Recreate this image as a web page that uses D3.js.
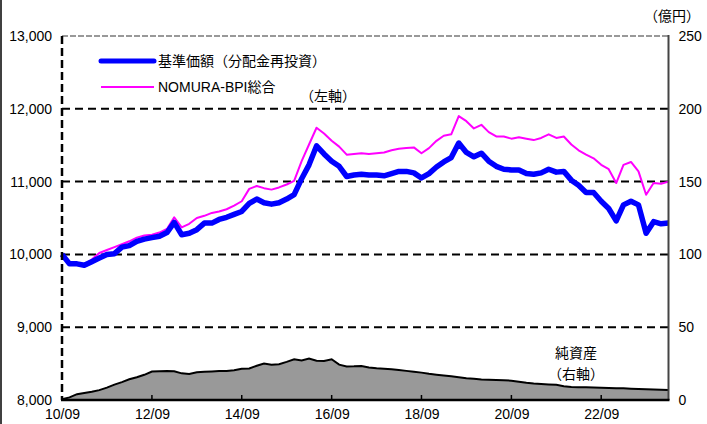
<!DOCTYPE html>
<html><head><meta charset="utf-8">
<script src="https://cdn.jsdelivr.net/npm/d3@7"></script>
<style>
html,body{margin:0;padding:0;background:#fff;}
svg{display:block;}
text{font-family:"Liberation Sans","Noto Sans CJK JP",sans-serif;fill:#000;}
</style></head>
<body>
<svg id="c" width="707" height="424"></svg>
<script>
// bimonthly observations, 2010/09 .. 2024/03
const startMonth = "2010-09";
const navValues = [10000,9870,9870,9850,9900,9950,10000,10010,10100,10120,10180,10210,10230,10250,10300,10440,10270,10290,10340,10430,10430,10480,10510,10550,10590,10700,10760,10710,10690,10710,10760,10820,11040,11230,11490,11380,11280,11210,11070,11090,11100,11090,11090,11080,11110,11140,11140,11120,11050,11110,11200,11270,11330,11530,11400,11340,11390,11280,11210,11170,11160,11160,11110,11100,11120,11170,11130,11140,11020,10950,10850,10850,10730,10630,10460,10680,10730,10680,10290,10450,10420,10430];
const bpiValues = [10000,9890,9880,9860,9930,10020,10060,10100,10140,10180,10230,10260,10270,10300,10350,10510,10370,10420,10500,10530,10570,10590,10620,10670,10730,10900,10940,10910,10890,10920,10960,11010,11280,11510,11740,11660,11560,11480,11370,11380,11390,11380,11390,11400,11430,11450,11460,11470,11390,11460,11560,11630,11650,11900,11830,11730,11780,11680,11620,11620,11590,11610,11590,11570,11600,11650,11600,11620,11510,11430,11370,11320,11230,11170,10980,11230,11270,11140,10820,10980,10970,11000];
const netAssets = [0.5,1.8,4.0,4.8,5.6,6.8,8.5,10.6,12.3,14.2,15.6,17.3,19.5,19.8,20.0,19.8,18.3,17.9,19.0,19.4,19.6,19.9,20.0,20.4,21.4,21.7,23.5,25.0,24.2,24.6,26.2,28.0,27.2,28.5,27.0,26.8,28.0,24.3,23.0,23.1,23.4,22.4,21.8,21.5,21.1,20.6,20.0,19.4,18.8,18.0,17.4,16.9,16.3,15.6,15.0,14.6,14.1,13.9,13.7,13.5,13.3,12.6,11.8,11.3,11.0,10.7,10.4,9.4,9.0,8.8,8.7,8.5,8.4,8.3,8.1,8.0,7.8,7.6,7.4,7.2,7.0,6.8];
const leftTicks = [8000,9000,10000,11000,12000,13000];
const rightTicks = [0,50,100,150,200,250];
const xTickLabels = ["10/09","12/09","14/09","16/09","18/09","20/09","22/09"];
const legendLabels = ["基準価額（分配金再投資）","NOMURA-BPI総合"];

const svg = d3.select("#c");
const L = 62, R = 668.5, T = 36, B = 400;
const parse = d3.timeParse("%Y-%m");
const t0 = parse(startMonth);
const dates = navValues.map((_, i) => d3.timeMonth.offset(t0, i * 2));

const x = d3.scaleTime().domain([t0, dates[dates.length - 1]]).range([L, R]);
const yL = d3.scaleLinear().domain([8000, 13000]).range([B, T]);
const yR = d3.scaleLinear().domain([0, 250]).range([B, T]);

// outer left frame
svg.append("line").attr("x1",1).attr("x2",1).attr("y1",0).attr("y2",424).attr("stroke","#000").attr("stroke-width",1.5);

// net assets area
const area = d3.area().x((d,i)=>x(dates[i])).y0(B).y1(d=>yR(d));
svg.append("path").datum(netAssets).attr("d",area).attr("fill","#999999");
svg.append("path").datum(netAssets).attr("d",d3.line().x((d,i)=>x(dates[i])).y(d=>yR(d)))
  .attr("fill","none").attr("stroke","#000").attr("stroke-width",2);

// gridlines
svg.append("g").selectAll("line").data(leftTicks.filter(v=>v>8000 && v<13000)).join("line")
  .attr("x1",L).attr("x2",R).attr("y1",d=>yL(d)).attr("y2",d=>yL(d))
  .attr("stroke","#000").attr("stroke-width",2).attr("stroke-dasharray","8,5");
// top border
svg.append("line").attr("x1",L).attr("x2",R).attr("y1",T).attr("y2",T)
  .attr("stroke","#999").attr("stroke-width",2).attr("stroke-dasharray","6,2");

// lines
const lineL = d3.line().x((d,i)=>x(dates[i])).y(d=>yL(d)).curve(d3.curveLinear);
svg.append("path").datum(bpiValues).attr("d",lineL).attr("fill","none").attr("stroke","#FF00FF").attr("stroke-width",2).attr("stroke-linejoin","round");
svg.append("path").datum(navValues).attr("d",lineL).attr("fill","none").attr("stroke","#0000FF").attr("stroke-width",5.5).attr("stroke-linejoin","round");

// axes lines
svg.append("line").attr("x1",L).attr("x2",L).attr("y1",T).attr("y2",B)
  .attr("stroke","#000").attr("stroke-width",2.5).attr("stroke-dasharray","8,4");
svg.append("line").attr("x1",R).attr("x2",R).attr("y1",T-1).attr("y2",B)
  .attr("stroke","#444").attr("stroke-width",2);
svg.append("line").attr("x1",L-1).attr("x2",R+1).attr("y1",B).attr("y2",B)
  .attr("stroke","#000").attr("stroke-width",2.5);

// left axis labels
const axL = d3.axisLeft(yL).tickValues(leftTicks).tickFormat(d3.format(",")).tickSize(0).tickPadding(10);
const gL = svg.append("g").attr("transform",`translate(${L},0)`).call(axL);
gL.select(".domain").remove();
gL.selectAll("text").attr("font-size",14).attr("font-family","Liberation Sans, sans-serif").attr("fill","#000");

const axR = d3.axisRight(yR).tickValues(rightTicks).tickSize(0).tickPadding(10);
const gR = svg.append("g").attr("transform",`translate(${R},0)`).call(axR);
gR.select(".domain").remove();
gR.selectAll("text").attr("font-size",14).attr("font-family","Liberation Sans, sans-serif").attr("fill","#000");

// x ticks
const xTickDates = xTickLabels.map(s => parse("20" + s.replace("/", "-")));
const axX = d3.axisBottom(x).tickValues(xTickDates).tickFormat((d,i)=>xTickLabels[i]).tickSize(0).tickPadding(9);
const gX = svg.append("g").attr("transform",`translate(0,${B})`).call(axX);
gX.select(".domain").remove();
gX.selectAll("text").attr("font-size",14).attr("font-family","Liberation Sans, sans-serif").attr("fill","#000");
svg.append("g").selectAll("line").data(xTickDates.slice(1)).join("line")
  .attr("x1",d=>x(d)).attr("x2",d=>x(d)).attr("y1",B).attr("y2",B-5)
  .attr("stroke","#000").attr("stroke-width",1.5);

// unit label
svg.append("text").attr("x",700).attr("y",21).attr("text-anchor","end").attr("font-size",14).text("（億円）");

// legend
const lg = svg.append("g");
lg.append("line").attr("x1",101).attr("x2",154).attr("y1",61).attr("y2",61).attr("stroke","#0000FF").attr("stroke-width",5).attr("stroke-linecap","round");
lg.append("line").attr("x1",101).attr("x2",154).attr("y1",87).attr("y2",87).attr("stroke","#FF00FF").attr("stroke-width",2);
lg.append("text").attr("x",158).attr("y",66).attr("font-size",14).text(legendLabels[0]);
lg.append("text").attr("x",158).attr("y",92).attr("font-size",14).text(legendLabels[1]);

svg.append("text").attr("x",300).attr("y",101).attr("font-size",14).text("（左軸）");
svg.append("text").attr("x",576).attr("y",358).attr("text-anchor","middle").attr("font-size",14).text("純資産");
svg.append("text").attr("x",576).attr("y",379).attr("text-anchor","middle").attr("font-size",14).text("（右軸）");
</script>
</body></html>
